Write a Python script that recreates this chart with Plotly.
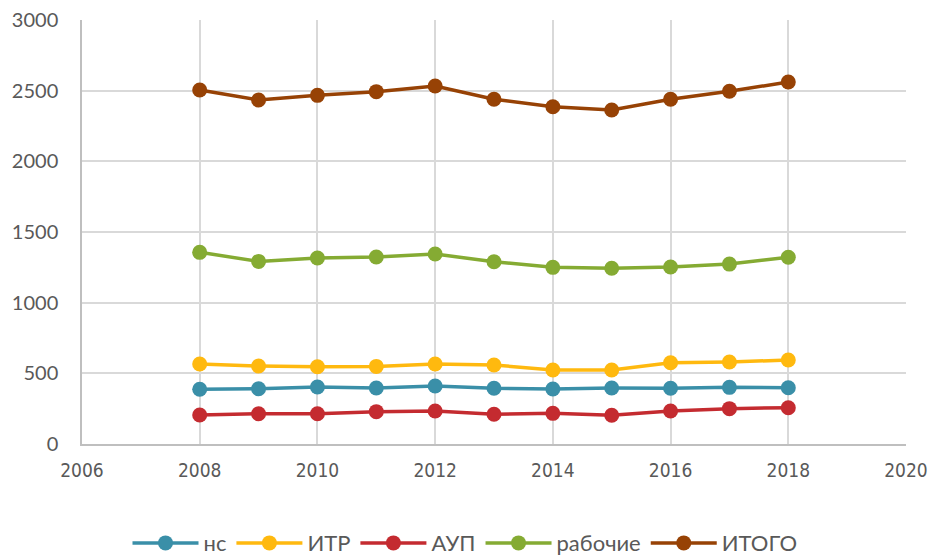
import plotly.graph_objects as go

years = [2008, 2009, 2010, 2011, 2012, 2013, 2014, 2015, 2016, 2017, 2018]
ns = [387, 391, 403, 396, 410, 394, 389, 396, 394, 401, 398]
itr = [566, 552, 547, 549, 566, 559, 524, 524, 575, 580, 594]
aup = [205, 214, 214, 229, 233, 210, 217, 203, 233, 250, 257]
rabochie = [1356, 1292, 1316, 1323, 1344, 1290, 1250, 1243, 1252, 1273, 1321]
itogo = [2505, 2434, 2467, 2493, 2533, 2439, 2386, 2363, 2439, 2496, 2561]

series = [
    ("нс", ns, "#3A8FA8"),
    ("ИТР", itr, "#FFB90F"),
    ("АУП", aup, "#C42B30"),
    ("рабочие", rabochie, "#85AB33"),
    ("ИТОГО", itogo, "#974205"),
]

fig = go.Figure()
for name, vals, color in series:
    fig.add_trace(go.Scatter(
        x=years, y=vals, name=name, mode="lines+markers",
        line=dict(color=color, width=3.5),
        marker=dict(color=color, size=15),
    ))

fig.update_layout(
    width=930, height=557,
    margin=dict(l=82, r=24, t=20, b=113, autoexpand=False),
    paper_bgcolor="white", plot_bgcolor="white",
    font=dict(family="Lato, sans-serif", color="#595959", size=20),
    legend=dict(orientation="h", xref="container", x=0.5, xanchor="center",
                yref="container", y=0.025, yanchor="middle",
                font=dict(size=22, color="#595959"), itemwidth=66, traceorder="normal"),
    showlegend=True,
)
fig.update_xaxes(range=[2006, 2020], dtick=2, tick0=2006, showgrid=True,
                 gridcolor="#D9D9D9", gridwidth=1.5, showline=True, linecolor="#BFBFBF",
                 linewidth=1.5, zeroline=False, ticks="", ticklabelstandoff=8,
                 automargin=False, ticklabeloverflow="allow",
                 tickfont=dict(family="DejaVu Sans Condensed, Lato, sans-serif", size=19))
fig.update_yaxes(range=[0, 3000], dtick=500, showgrid=True, gridcolor="#D9D9D9",
                 gridwidth=1.5, showline=True, linecolor="#BFBFBF", linewidth=1.5,
                 zeroline=False, ticks="", ticklabelstandoff=18, automargin=False,
                 ticklabeloverflow="allow")

fig.write_html(
    "out.html",
    config={"displayModeBar": False},
    post_script="document.body.style.margin='0';document.body.style.overflow='hidden';",
)
